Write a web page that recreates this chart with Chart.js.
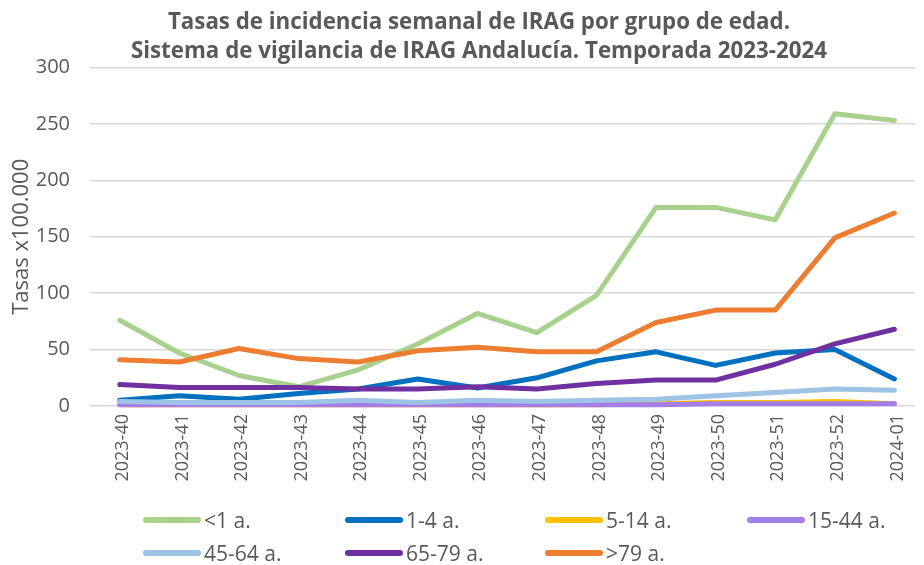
<!DOCTYPE html>
<html>
<head>
<meta charset="utf-8">
<script src="https://cdn.jsdelivr.net/npm/chart.js@4.4.1/dist/chart.umd.min.js"></script>
<style>
  html, body { margin: 0; padding: 0; background: #fff; overflow: hidden; }
  #wrap { position: relative; width: 924px; height: 565px; }
  #c { position: absolute; left: 0; top: 0; }
  #title { position: absolute; left: 0; top: 6px; width: 958px; text-align: center;
    font-family: "Open Sans", sans-serif; font-weight: 700; font-size: 22.3px; line-height: 29px; color: #595959; }
  .lg { position: absolute; height: 30px; display: flex; align-items: center;
    font-family: "Open Sans", sans-serif; font-size: 21px; color: #595959; white-space: nowrap; }
  .lg span.sw { display: inline-block; width: 58px; height: 6px; border-radius: 3px; margin-right: 3px; }
</style>
</head>
<body>
<div id="wrap">
  <canvas id="c" width="924" height="565"></canvas>
  <div id="title">Tasas de incidencia semanal de IRAG por grupo de edad.<br>Sistema de vigilancia de IRAG Andalucía. Temporada 2023-2024</div>
  <div id="legend"></div>
</div>
<script>
const categories = ['2023-40','2023-41','2023-42','2023-43','2023-44','2023-45','2023-46','2023-47','2023-48','2023-49','2023-50','2023-51','2023-52','2024-01'];
const seriesNames = ['<1 a.','1-4 a.','5-14 a.','15-44 a.','45-64 a.','65-79 a.','>79 a.'];
const menor1 = [76, 47, 27, 17, 32, 55, 82, 65, 98, 176, 176, 165, 259, 253];
const g1_4 = [5, 9, 6, 11, 15, 24, 16, 25, 40, 48, 36, 47, 50, 24];
const g5_14 = [1, 1, 1, 1, 1, 1, 1, 1, 1, 2, 3, 3, 4, 2];
const g15_44 = [1, 1, 1, 1, 1, 1, 1, 1, 1, 1, 2, 2, 2, 2];
const g45_64 = [4, 3, 3, 3, 5, 3, 5, 4, 5, 6, 9, 12, 15, 14];
const g65_79 = [19, 16.5, 16.5, 16.5, 15, 15, 17, 15, 20, 23, 23, 37, 55, 68];
const mayor79 = [41, 39, 51, 42, 39, 49, 52, 48, 48, 74, 85, 85, 149, 171];
const yTicks = [0, 50, 100, 150, 200, 250, 300];

const colors = ['#A9D18E','#0070C0','#FFC000','#A47DE6','#9DC3E6','#7030A0','#ED7D31'];
const values = [menor1, g1_4, g5_14, g15_44, g45_64, g65_79, mayor79];

const datasets = values.map((arr, i) => ({
  label: seriesNames[i],
  data: arr.map((v, j) => ({ x: j, y: v })),
  borderColor: colors[i],
  backgroundColor: colors[i],
  borderWidth: 5,
  borderCapStyle: 'round',
  borderJoinStyle: 'round',
  pointRadius: 0,
  tension: 0,
  fill: false,
  clip: false,
  order: 6 - i
}));

// HTML legend
const legend = document.getElementById('legend');
const cols = [143, 345, 545, 747];
seriesNames.forEach((name, i) => {
  const d = document.createElement('div');
  d.className = 'lg';
  d.style.left = cols[i % 4] + 'px';
  d.style.top = (i < 4 ? 505 : 538) + 'px';
  const sw = document.createElement('span');
  sw.className = 'sw';
  sw.style.background = colors[i];
  d.appendChild(sw);
  d.appendChild(document.createTextNode(name));
  legend.appendChild(d);
});

new Chart(document.getElementById('c'), {
  type: 'line',
  data: { datasets },
  options: {
    responsive: false,
    animation: false,
    layout: { padding: { top: 67.5, right: 0, bottom: 0, left: 0 } },
    plugins: { legend: { display: false }, title: { display: false }, tooltip: { enabled: false } },
    scales: {
      x: {
        type: 'linear',
        min: -0.5,
        max: 13.35,
        afterBuildTicks: (s) => { s.ticks = categories.map((c, i) => ({ value: i })); },
        afterFit: (s) => { s.height = 159; },
        grid: { display: false, drawTicks: false },
        border: { display: false },
        ticks: {
          autoSkip: false,
          minRotation: 90,
          maxRotation: 90,
          padding: 8,
          labelOffset: 3,
          color: '#595959',
          font: { family: 'Open Sans', size: 18 },
          callback: (v) => categories[v]
        }
      },
      y: {
        min: 0,
        max: 300,
        afterBuildTicks: (s) => { s.ticks = yTicks.map(v => ({ value: v })); },
        afterFit: (s) => { s.width = 90; },
        grid: { color: '#D9D9D9', lineWidth: 1.5, drawTicks: false },
        border: { display: false },
        ticks: {
          padding: 20,
          color: '#595959',
          font: { family: 'Open Sans', size: 20 }
        },
        title: {
          display: true,
          text: 'Tasas x100.000',
          color: '#595959',
          font: { family: 'Open Sans', size: 22 },
          padding: { top: 9, bottom: 0 }
        }
      }
    }
  }
});
</script>
</body>
</html>
